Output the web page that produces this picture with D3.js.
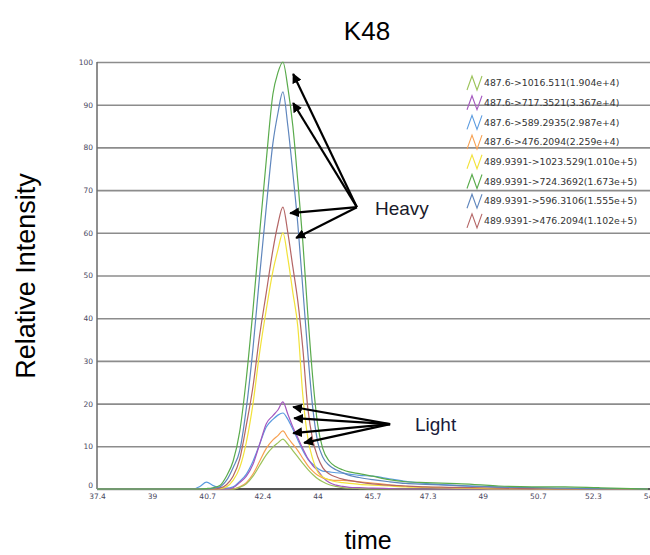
<!DOCTYPE html>
<html>
<head>
<meta charset="utf-8">
<script src="https://cdn.jsdelivr.net/npm/d3@7"></script>
<style>
  body { margin: 0; background: #fff; }
  svg { display: block; }
</style>
</head>
<body>
<svg id="chart" width="650" height="555"></svg>
<script>
// retention time grid (min)
const times = [37.4, 40.0, 40.3, 40.5, 40.7, 40.9, 41.1, 41.3, 41.5, 41.7, 41.9, 42.1, 42.3, 42.5, 42.7, 42.85, 43.0,
  43.15, 43.3, 43.45, 43.6, 43.75, 43.9, 44.05, 44.2, 44.4, 44.6, 44.8, 45.0, 45.3, 45.7, 46.2, 46.7, 47.3, 48.0,
  48.7, 49.5, 50.5, 51.5, 52.5, 53.5, 54.0];

// light (487.6) transitions
const light1016 = [0, 0, 0, 0, 0, 0, 0, 0, 0, 0.4, 1.2, 3, 5.5, 8, 9.8, 10.8, 11.7,
  10.5, 9, 7.5, 6, 4.6, 3.4, 2.4, 1.7, 1, 0.6, 0.3, 0.2, 0.1, 0, 0, 0, 0, 0,
  0, 0, 0, 0, 0, 0, 0];
const light717 = [0, 0, 0, 0, 0, 0, 0, 0, 0.3, 1.5, 3, 5.8, 10.5, 15.3, 17.2, 18.5, 20.4,
  17.5, 14.5, 12, 9.5, 7.2, 5.5, 4.3, 2.8, 1.5, 0.9, 0.6, 0.4, 0.3, 0.2, 0.1, 0, 0, 0,
  0, 0, 0, 0, 0, 0, 0];
const light589 = [0, 0, 0, 0.6, 1.6, 0.8, 0.3, 0.2, 0.5, 1.8, 3.5, 6.5, 10.5, 14.5, 16.3, 17.3, 17.8,
  16.3, 14, 11.5, 9, 7, 5.8, 4.8, 4.2, 4, 3.8, 3.7, 3.5, 3.2, 3, 2.4, 1.8, 1.3, 0.9,
  0.6, 0.4, 0.2, 0.1, 0, 0, 0];
const light476 = [0, 0, 0, 0, 0, 0, 0, 0, 0, 0.5, 1.5, 3.5, 6.5, 9.5, 11.5, 12.5, 13.6,
  12, 10.5, 9, 7.2, 5.5, 4.2, 3.2, 2.6, 2.2, 2, 2, 1.9, 1.7, 1.4, 1, 0.6, 0.4, 0.2,
  0.1, 0, 0, 0, 0, 0, 0];

// heavy (489.9391) transitions
const heavy1023 = [0, 0, 0, 0, 0, 0, 0.1, 0.5, 2, 5, 11, 20, 32, 42, 51, 56, 60,
  54, 46, 38, 22, 12, 7, 4, 2.8, 2.1, 1.7, 1.5, 1.3, 1.1, 0.9, 0.7, 0.5, 0.4, 0.3,
  0.2, 0.1, 0.1, 0, 0, 0, 0];
const heavy724 = [0, 0, 0, 0, 0.1, 0.3, 0.8, 3, 6.5, 13.5, 26, 42, 60, 77, 92.5, 97.5, 100,
  94, 85, 72, 58, 41, 26, 15, 9.5, 6.5, 5.2, 4.5, 4, 3.6, 3, 2.2, 1.7, 1.5, 1.3,
  1.1, 0.7, 0.5, 0.5, 0.3, 0.1, 0];
const heavy596 = [0, 0, 0, 0, 0, 0.2, 0.5, 2, 5, 9, 19, 33, 50, 66, 81, 88, 93,
  85, 74, 62, 47, 32, 19, 11, 7.5, 5.5, 4.5, 3.8, 3.2, 2.7, 2.2, 1.7, 1.3, 1.1, 0.9,
  0.7, 0.5, 0.3, 0.2, 0.1, 0.1, 0];
const heavy476 = [0, 0, 0, 0, 0, 0, 0.2, 1, 3, 7, 15, 24, 36, 46, 56, 62, 66,
  60, 52, 44, 33, 19, 11.5, 7.5, 5, 3.5, 2.8, 2.3, 2, 1.6, 1.2, 0.9, 0.7, 0.5, 0.4,
  0.3, 0.2, 0.1, 0, 0, 0, 0];

const seriesNames = [
  "487.6->1016.511(1.904e+4)",
  "487.6->717.3521(3.367e+4)",
  "487.6->589.2935(2.987e+4)",
  "487.6->476.2094(2.259e+4)",
  "489.9391->1023.529(1.010e+5)",
  "489.9391->724.3692(1.673e+5)",
  "489.9391->596.3106(1.555e+5)",
  "489.9391->476.2094(1.102e+5)"
];
const seriesValues = [light1016, light717, light589, light476, heavy1023, heavy724, heavy596, heavy476];
const seriesColors = ["#9cc35a", "#a457bf", "#5a9be0", "#f7a050", "#f2e23a", "#5aab4c", "#5f86bd", "#b46565"];

const yTicks = [0, 10, 20, 30, 40, 50, 60, 70, 80, 90, 100];
const xTickLabels = ["37.4", "39", "40.7", "42.4", "44", "45.7", "47.3", "49", "50.7", "52.3", "54"];

// annotation arrows, in data units: [fromTime, fromValue, toTime, toValue]
const heavyArrows = [[45.23, 66, 43.31, 97.2], [45.23, 66, 43.31, 90.4], [45.23, 66, 43.22, 64.6], [45.23, 66, 43.40, 58.8]];
const lightArrows = [[46.23, 15.2, 43.31, 19.2], [46.23, 15.2, 43.34, 16.6], [46.23, 15.2, 43.31, 13.1], [46.23, 15.2, 43.64, 10.8]];

const svg = d3.select("#chart");
const plotLeft = 97, plotRight = 648, plotTop = 62, plotBottom = 489;

const x = d3.scaleLinear().domain([37.4, 54]).range([plotLeft, plotRight]);
const y = d3.scaleLinear().domain([0, 100]).range([plotBottom, plotTop]);

// gridlines + y labels
const yAxis = svg.append("g")
  .attr("transform", `translate(${plotLeft},0)`)
  .call(d3.axisLeft(y).tickValues(yTicks).tickSize(-(650 - plotLeft)).tickPadding(4));
yAxis.select(".domain").remove();
yAxis.selectAll(".tick line").attr("stroke", "#8c8c8c").attr("stroke-width", 1.6);
yAxis.selectAll(".tick text")
  .attr("fill", "#4a4860")
  .style("font", "7.5px 'DejaVu Sans', Verdana, sans-serif");
yAxis.selectAll(".tick").filter(d => d === 0).select("text").attr("dy", "-0.2em");

// x axis labels (evenly spaced)
const xTickPos = xTickLabels.map((d, i) => 37.4 + i * (54 - 37.4) / (xTickLabels.length - 1));
const xAxis = svg.append("g")
  .attr("transform", `translate(0,${plotBottom})`)
  .call(d3.axisBottom(x).tickValues(xTickPos).tickSize(0).tickPadding(5).tickFormat((d, i) => xTickLabels[i]));
xAxis.select(".domain").remove();
xAxis.selectAll(".tick text")
  .attr("fill", "#4a4860")
  .style("font", "7.5px 'DejaVu Sans', Verdana, sans-serif");

// axis lines
svg.append("line").attr("x1", plotLeft).attr("x2", plotLeft).attr("y1", plotTop).attr("y2", plotBottom)
  .attr("stroke", "#6a6a6a").attr("stroke-width", 1.5);
svg.append("line").attr("x1", plotLeft).attr("x2", 650).attr("y1", plotBottom).attr("y2", plotBottom)
  .attr("stroke", "#555").attr("stroke-width", 2);

// traces
const line = d3.line()
  .x((d, i) => x(times[i]))
  .y(d => y(d))
  .curve(d3.curveMonotoneX);

const drawOrder = [3, 0, 2, 1, 4, 7, 6, 5];
svg.append("g").selectAll("path")
  .data(drawOrder)
  .join("path")
  .attr("d", k => line(seriesValues[k]))
  .attr("fill", "none")
  .attr("stroke", k => seriesColors[k])
  .attr("stroke-width", 1.2);

// legend
const legend = svg.append("g").attr("transform", "translate(467,83)");
const rows = legend.selectAll("g").data(seriesNames).join("g")
  .attr("transform", (d, i) => `translate(0,${i * 19.7})`);
rows.append("path")
  .attr("d", "M0,7 L5,-7 L10,7 L15,-7")
  .attr("fill", "none")
  .attr("stroke", (d, i) => seriesColors[i])
  .attr("stroke-width", 1.1);
rows.append("text")
  .attr("x", 17)
  .attr("dy", "0.35em")
  .attr("fill", "#333")
  .style("font", "9.3px 'DejaVu Sans', Verdana, sans-serif")
  .text(d => d);

// arrows
svg.append("defs").append("marker")
  .attr("id", "head")
  .attr("viewBox", "0 0 10 10")
  .attr("refX", 9).attr("refY", 5)
  .attr("markerWidth", 4.5).attr("markerHeight", 4.5)
  .attr("orient", "auto")
  .append("path").attr("d", "M0,0 L10,5 L0,10 Z").attr("fill", "#000");

svg.append("g").selectAll("line")
  .data(heavyArrows.concat(lightArrows))
  .join("line")
  .attr("x1", d => x(d[0])).attr("y1", d => y(d[1]))
  .attr("x2", d => x(d[2])).attr("y2", d => y(d[3]))
  .attr("stroke", "#000").attr("stroke-width", 2.2)
  .attr("marker-end", "url(#head)");

svg.append("text").attr("x", 375).attr("y", 215)
  .style("font", "19px 'Liberation Sans', Arial, sans-serif").attr("fill", "#1a1a2a").text("Heavy");
svg.append("text").attr("x", 415).attr("y", 431)
  .style("font", "19px 'Liberation Sans', Arial, sans-serif").attr("fill", "#1a1a3a").text("Light");

// titles
svg.append("text").attr("x", 367).attr("y", 40).attr("text-anchor", "middle")
  .style("font", "26px 'Liberation Sans', Arial, sans-serif").text("K48");
svg.append("text").attr("x", 368).attr("y", 549).attr("text-anchor", "middle")
  .style("font", "25px 'Liberation Sans', Arial, sans-serif").text("time");
svg.append("text")
  .attr("transform", "translate(35,276) rotate(-90)")
  .attr("text-anchor", "middle")
  .style("font", "27px 'Liberation Sans', Arial, sans-serif").text("Relative Intensity");
</script>
</body>
</html>
